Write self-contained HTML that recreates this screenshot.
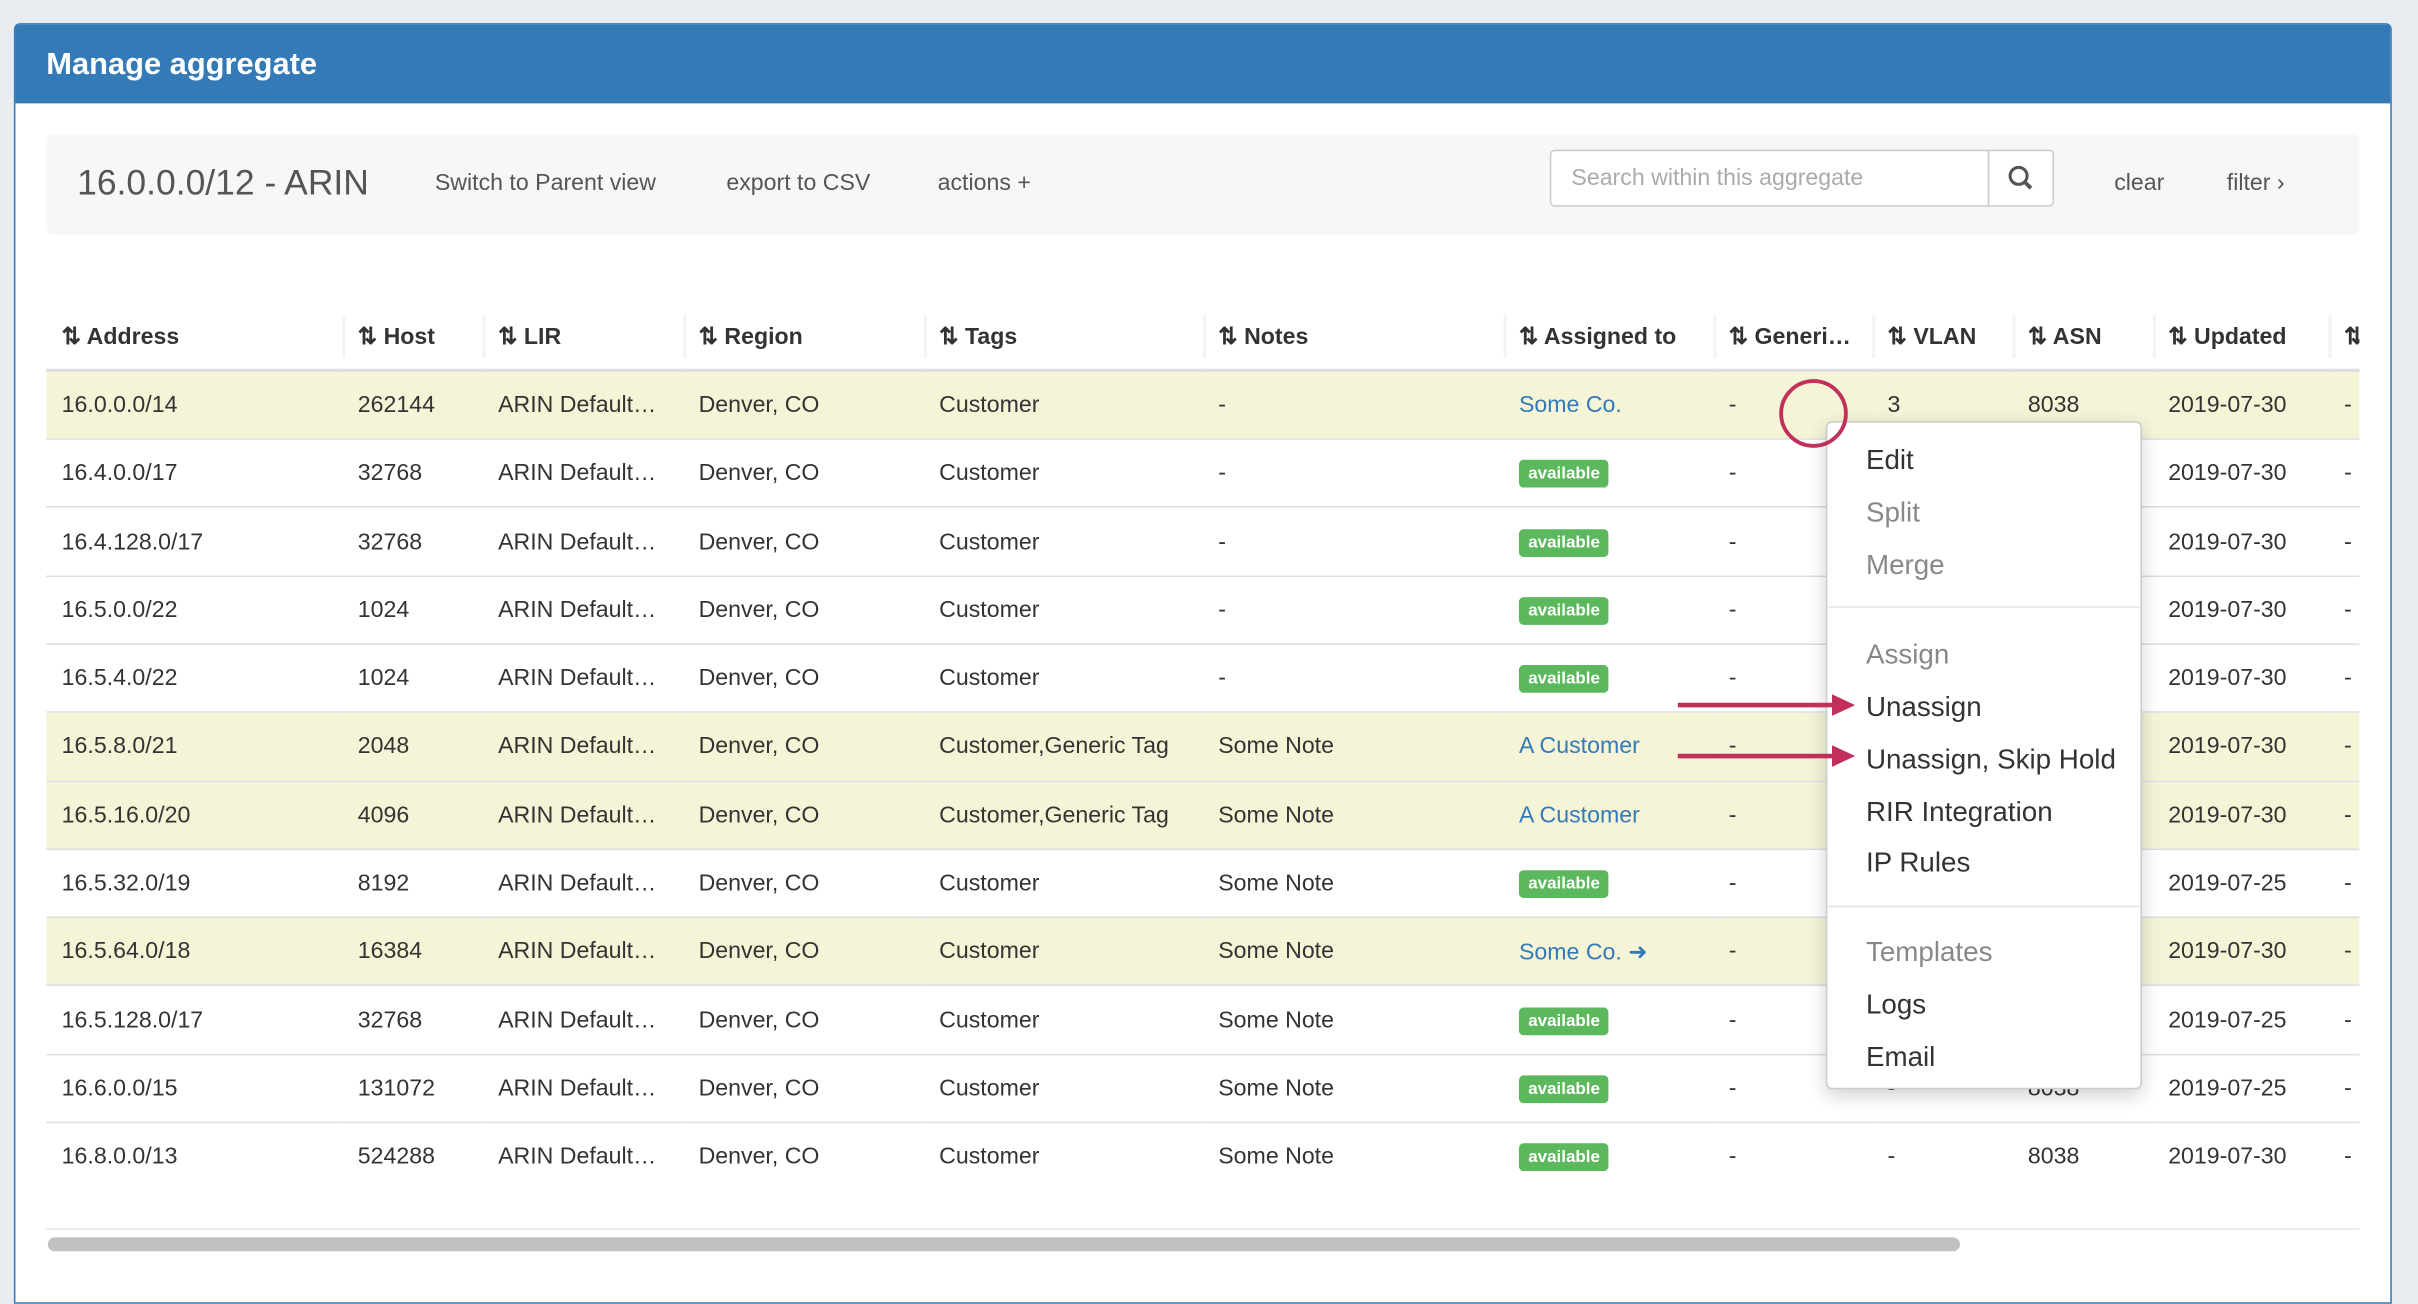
<!DOCTYPE html>
<html><head><meta charset="utf-8"><style>
*{box-sizing:border-box;margin:0;padding:0}
html,body{width:2418px;height:1276px;overflow:hidden;background:#e9edf1}
#s{position:absolute;left:0;top:0;width:1568px;height:827px;transform:scale(1.5421,1.5429);transform-origin:0 0;font-family:"Liberation Sans",sans-serif;color:#333}
.panel{position:absolute;left:9px;top:15px;width:1542px;height:830px;background:#fff;border:1px solid #337ab7;border-radius:4px 4px 0 0}
.hd{position:absolute;left:0;top:0;right:0;height:51px;background:#337ab7;color:#fff;font-size:20px;font-weight:bold;padding:15px 0 0 20px}
.tb{position:absolute;left:20px;top:71px;width:1500px;height:65px;background:#f7f7f7;border-radius:4px}
.tb span{position:absolute;font-size:15px;color:#555}
table{position:absolute;left:20px;top:180px;border-collapse:collapse;table-layout:fixed;width:1500px;font-size:15px}
td,th{padding-left:10px;white-space:nowrap;overflow:hidden;height:44.3px;text-align:left;border-top:1px solid #ddd}
th{font-weight:bold;border-top:none;border-bottom:2px solid #ddd;position:relative}
th+th:before{content:"";position:absolute;left:0;top:8px;height:28px;border-left:2px solid #f3f3f3}
tr.y td{background:#f6f4d7}
a{color:#337ab7;text-decoration:none}
.b{display:inline-block;background:#5cb85c;color:#fff;font-size:11px;font-weight:bold;padding:3px 6px;border-radius:3px}
.menu{position:absolute;left:1184px;top:273px;width:205px;height:433px;background:#fff;border:1px solid #ccc;border-radius:4px;box-shadow:0 4px 12px rgba(0,0,0,.18)}
.menu div{position:absolute;left:25px;font-size:18px;color:#333}
.menu .g{color:#888}
.menu hr{position:absolute;left:0;width:100%;border:none;border-top:1px solid #e5e5e5}
</style></head><body><div id="s">
<div class="panel">
<div class="hd">Manage aggregate</div>
<div class="tb">
<span style="left:20px;top:18px;font-size:23px">16.0.0.0/12 - ARIN</span>
<span style="left:252px;top:23px">Switch to Parent view</span>
<span style="left:441px;top:23px">export to CSV</span>
<span style="left:578px;top:23px">actions +</span>
<div style="position:absolute;left:975px;top:10px;width:285px;height:37px;background:#fff;border:1px solid #ccc;border-radius:3px 0 0 3px;font-size:15px;color:#aaa;padding:9px 13px">Search within this aggregate</div>
<div style="position:absolute;left:1259px;top:10px;width:43px;height:37px;background:#fff;border:1px solid #ccc;border-radius:0 3px 3px 0"><svg width="41" height="35"><circle cx="19" cy="16" r="5.5" stroke="#555" stroke-width="2" fill="none"/><line x1="23" y1="20" x2="27" y2="24" stroke="#555" stroke-width="2.5"/></svg></div>
<span style="left:1341px;top:23px">clear</span>
<span style="left:1414px;top:23px">filter ›</span>
</div>
<table>
<colgroup><col style="width:192px"><col style="width:91px"><col style="width:130px"><col style="width:156px"><col style="width:181px"><col style="width:195px"><col style="width:136px"><col style="width:103px"><col style="width:91px"><col style="width:91px"><col style="width:114px"><col style="width:20px"></colgroup>
<tr><th>⇅ Address</th><th>⇅ Host</th><th>⇅ LIR</th><th>⇅ Region</th><th>⇅ Tags</th><th>⇅ Notes</th><th>⇅ Assigned to</th><th>⇅ Generi…</th><th>⇅ VLAN</th><th>⇅ ASN</th><th>⇅ Updated</th><th>⇅</th></tr>
<tr class="y"><td>16.0.0.0/14</td><td>262144</td><td>ARIN Default…</td><td>Denver, CO</td><td>Customer</td><td>-</td><td><a>Some Co.</a></td><td>-</td><td>3</td><td>8038</td><td>2019-07-30</td><td>-</td></tr>
<tr><td>16.4.0.0/17</td><td>32768</td><td>ARIN Default…</td><td>Denver, CO</td><td>Customer</td><td>-</td><td><span class="b">available</span></td><td>-</td><td>-</td><td>8038</td><td>2019-07-30</td><td>-</td></tr>
<tr><td>16.4.128.0/17</td><td>32768</td><td>ARIN Default…</td><td>Denver, CO</td><td>Customer</td><td>-</td><td><span class="b">available</span></td><td>-</td><td>-</td><td>8038</td><td>2019-07-30</td><td>-</td></tr>
<tr><td>16.5.0.0/22</td><td>1024</td><td>ARIN Default…</td><td>Denver, CO</td><td>Customer</td><td>-</td><td><span class="b">available</span></td><td>-</td><td>-</td><td>8038</td><td>2019-07-30</td><td>-</td></tr>
<tr><td>16.5.4.0/22</td><td>1024</td><td>ARIN Default…</td><td>Denver, CO</td><td>Customer</td><td>-</td><td><span class="b">available</span></td><td>-</td><td>-</td><td>8038</td><td>2019-07-30</td><td>-</td></tr>
<tr class="y"><td>16.5.8.0/21</td><td>2048</td><td>ARIN Default…</td><td>Denver, CO</td><td>Customer,Generic Tag</td><td>Some Note</td><td><a>A Customer</a></td><td>-</td><td>-</td><td>8038</td><td>2019-07-30</td><td>-</td></tr>
<tr class="y"><td>16.5.16.0/20</td><td>4096</td><td>ARIN Default…</td><td>Denver, CO</td><td>Customer,Generic Tag</td><td>Some Note</td><td><a>A Customer</a></td><td>-</td><td>-</td><td>8038</td><td>2019-07-30</td><td>-</td></tr>
<tr><td>16.5.32.0/19</td><td>8192</td><td>ARIN Default…</td><td>Denver, CO</td><td>Customer</td><td>Some Note</td><td><span class="b">available</span></td><td>-</td><td>-</td><td>8038</td><td>2019-07-25</td><td>-</td></tr>
<tr class="y"><td>16.5.64.0/18</td><td>16384</td><td>ARIN Default…</td><td>Denver, CO</td><td>Customer</td><td>Some Note</td><td><a>Some Co. ➜</a></td><td>-</td><td>-</td><td>8038</td><td>2019-07-30</td><td>-</td></tr>
<tr><td>16.5.128.0/17</td><td>32768</td><td>ARIN Default…</td><td>Denver, CO</td><td>Customer</td><td>Some Note</td><td><span class="b">available</span></td><td>-</td><td>-</td><td>8038</td><td>2019-07-25</td><td>-</td></tr>
<tr><td>16.6.0.0/15</td><td>131072</td><td>ARIN Default…</td><td>Denver, CO</td><td>Customer</td><td>Some Note</td><td><span class="b">available</span></td><td>-</td><td>-</td><td>8038</td><td>2019-07-25</td><td>-</td></tr>
<tr><td>16.8.0.0/13</td><td>524288</td><td>ARIN Default…</td><td>Denver, CO</td><td>Customer</td><td>Some Note</td><td><span class="b">available</span></td><td>-</td><td>-</td><td>8038</td><td>2019-07-30</td><td>-</td></tr>
</table>
<div style="position:absolute;left:20px;top:780px;width:1500px;height:1px;background:#e5e5e5"></div>
<div style="position:absolute;left:21px;top:786px;width:1240px;height:9px;background:#c1c1c1;border-radius:5px"></div>
</div>
<div class="menu">
<div style="top:14px">Edit</div>
<div class="g" style="top:48px">Split</div>
<div class="g" style="top:82px">Merge</div>
<hr style="top:119px">
<div class="g" style="top:140px">Assign</div>
<div style="top:174px">Unassign</div>
<div style="top:208px">Unassign, Skip Hold</div>
<div style="top:242px">RIR Integration</div>
<div style="top:275px">IP Rules</div>
<hr style="top:313px">
<div class="g" style="top:333px">Templates</div>
<div style="top:367px">Logs</div>
<div style="top:401px">Email</div>
</div>
<svg style="position:absolute;left:0;top:0" width="1568" height="827">
<circle cx="1176" cy="268" r="21" stroke="#c0305a" stroke-width="2.5" fill="none"/>
<line x1="1088" y1="457" x2="1190" y2="457" stroke="#c0305a" stroke-width="3"/>
<polygon points="1188,450 1203,457 1188,464" fill="#c0305a"/>
<line x1="1088" y1="490" x2="1190" y2="490" stroke="#c0305a" stroke-width="3"/>
<polygon points="1188,483 1203,490 1188,497" fill="#c0305a"/>
</svg>
</div></body></html>
